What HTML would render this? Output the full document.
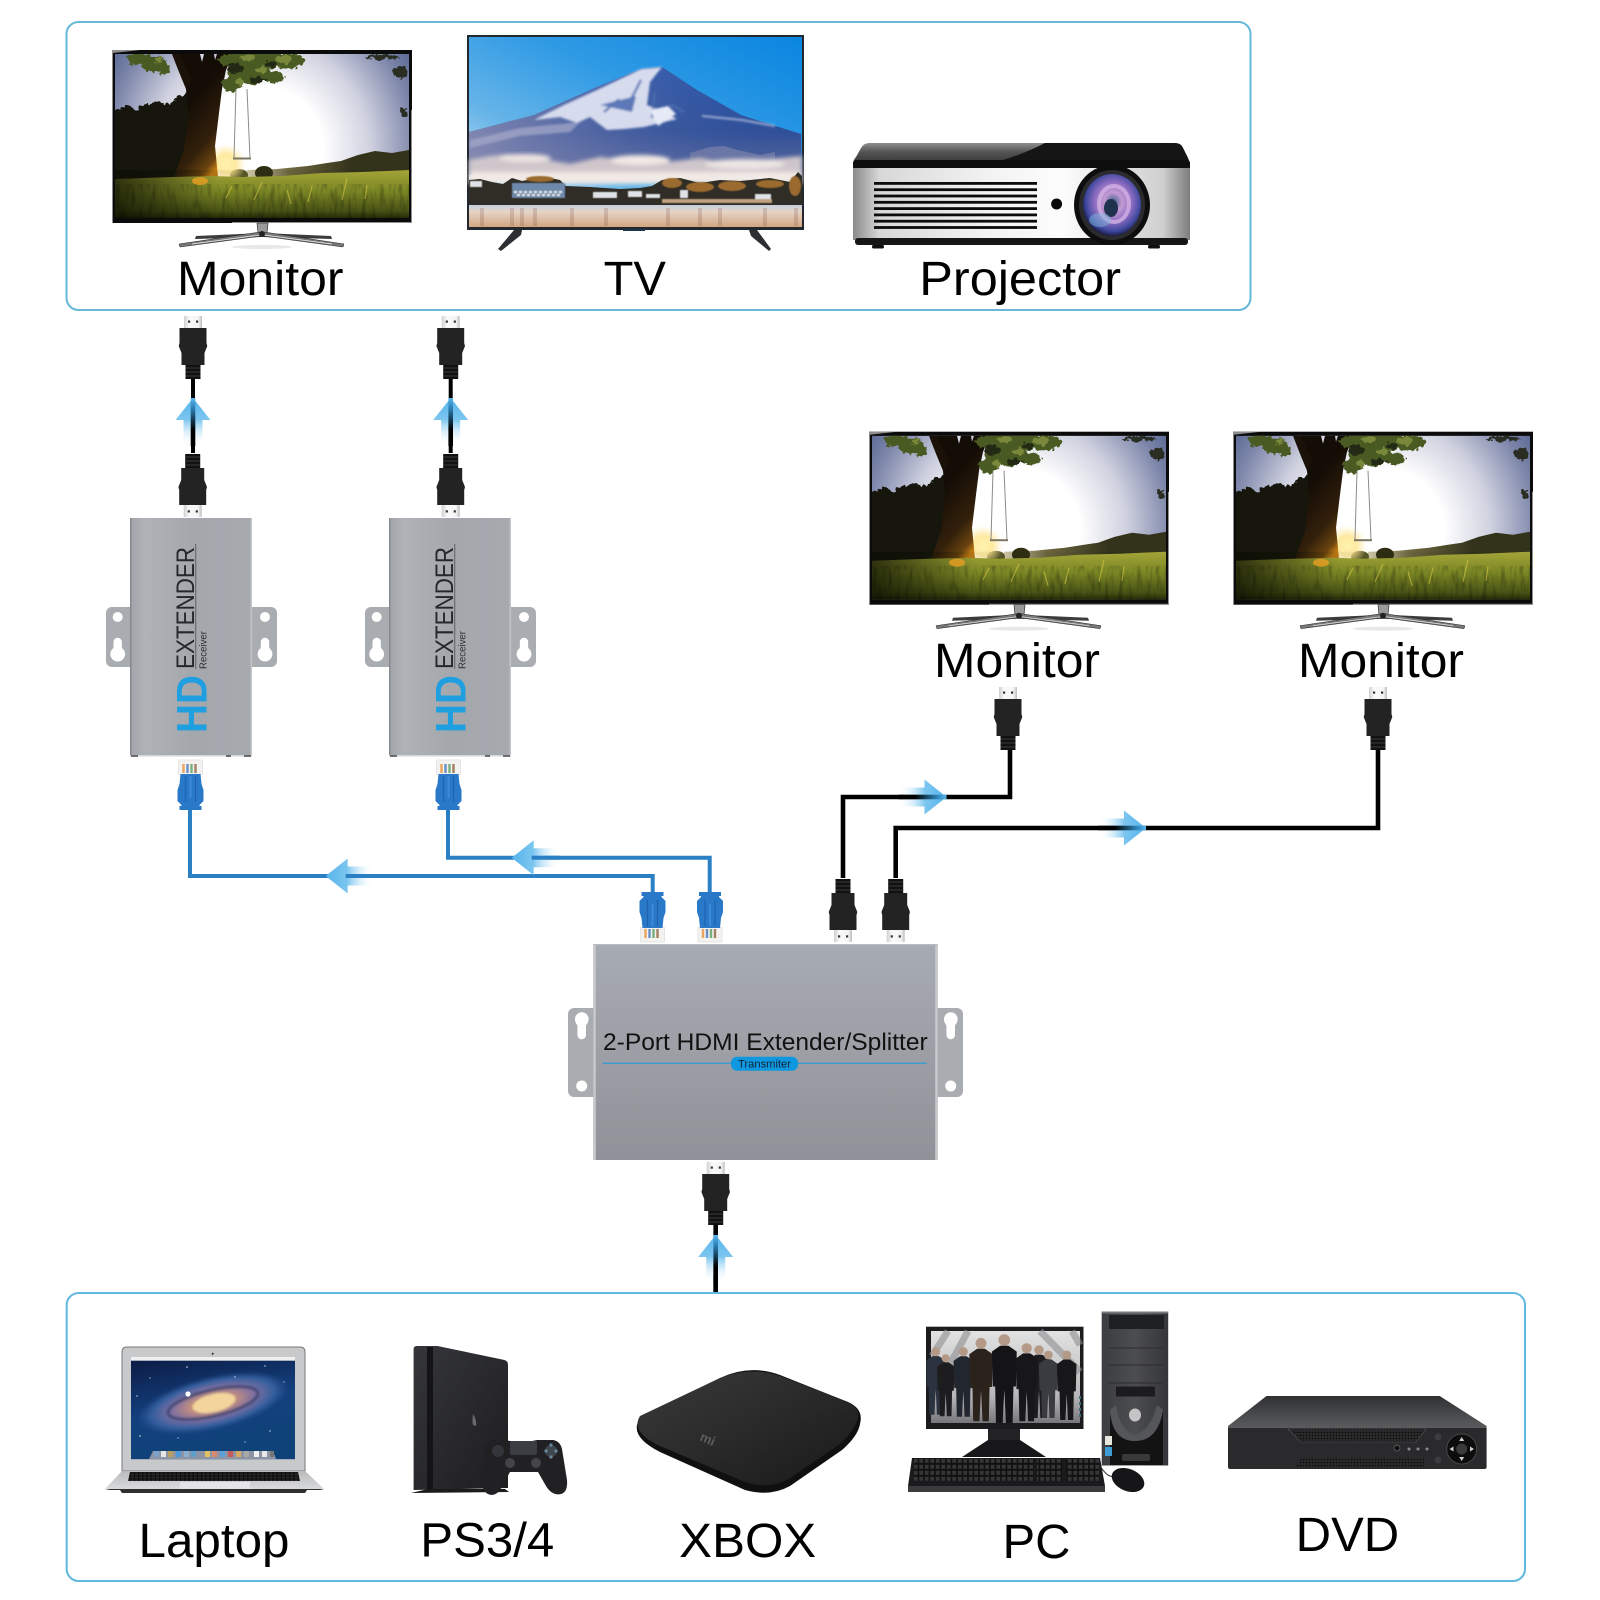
<!DOCTYPE html>
<html>
<head>
<meta charset="utf-8">
<title>2-Port HDMI Extender/Splitter diagram</title>
<style>
html,body{margin:0;padding:0;background:#fff;width:1600px;height:1600px;overflow:hidden}
svg{display:block}
text{font-family:"Liberation Sans",sans-serif}
</style>
</head>
<body>
<svg xmlns="http://www.w3.org/2000/svg" width="1600" height="1600" viewBox="0 0 1600 1600">
<defs>
  <radialGradient id="sky" gradientUnits="userSpaceOnUse" cx="150" cy="98" r="180">
    <stop offset="0" stop-color="#fff"/><stop offset=".34" stop-color="#fff"/><stop offset=".6" stop-color="#cfd1df"/><stop offset=".85" stop-color="#7d86aa"/><stop offset="1" stop-color="#566592"/>
  </radialGradient>
  <linearGradient id="grass" x1="0" y1="0" x2="0" y2="1">
    <stop offset="0" stop-color="#acac3a"/><stop offset=".45" stop-color="#7f8c26"/><stop offset=".85" stop-color="#4c5616"/><stop offset="1" stop-color="#262b08"/>
  </linearGradient>
  <linearGradient id="grassL" x1="0" y1="0" x2="1" y2="0">
    <stop offset="0" stop-color="#0c0e02" stop-opacity=".75"/><stop offset=".35" stop-color="#0c0e02" stop-opacity=".05"/><stop offset="1" stop-color="#0c0e02" stop-opacity=".05"/>
  </linearGradient>
  <linearGradient id="trunk" gradientUnits="userSpaceOnUse" x1="62" y1="70" x2="110" y2="112">
    <stop offset="0" stop-color="#140d06"/><stop offset=".6" stop-color="#33200b"/><stop offset=".88" stop-color="#6a440f"/><stop offset="1" stop-color="#c07a14"/>
  </linearGradient>
  <linearGradient id="hillg" gradientUnits="userSpaceOnUse" x1="135" y1="0" x2="240" y2="0">
    <stop offset="0" stop-color="#d8cfb0"/><stop offset=".4" stop-color="#6f6840"/><stop offset="1" stop-color="#33321b"/>
  </linearGradient>
  <radialGradient id="glow" cx=".5" cy=".5" r=".5">
    <stop offset="0" stop-color="#fff3b0"/><stop offset=".5" stop-color="#ffe48a" stop-opacity=".8"/><stop offset="1" stop-color="#ffe9a8" stop-opacity="0"/>
  </radialGradient>
  <filter id="noise" x="0" y="0" width="100%" height="100%">
    <feTurbulence type="fractalNoise" baseFrequency=".22 .05" numOctaves="2" seed="4"/>
    <feColorMatrix values="0 0 0 0 0  0 0 0 0 0  0 0 0 0 0  0 0 0 -3 1.6"/>
    <feComposite in2="SourceGraphic" operator="in"/>
  </filter>
  <filter id="rough" x="-10%" y="-10%" width="120%" height="120%">
    <feTurbulence type="fractalNoise" baseFrequency=".22" numOctaves="2" seed="7" result="n"/>
    <feDisplacementMap in="SourceGraphic" in2="n" scale="8" xChannelSelector="R" yChannelSelector="G"/>
  </filter>
  <filter id="blur2"><feGaussianBlur stdDeviation="2"/></filter>
  <filter id="blur1"><feGaussianBlur stdDeviation="1"/></filter>
  <filter id="blur05"><feGaussianBlur stdDeviation=".6"/></filter>
  <clipPath id="scr"><rect x="3" y="4" width="294" height="164"/></clipPath>

  <g id="mon">
    <rect x="0" y="0" width="300" height="173" fill="#0b0b0c"/>
    <path d="M0 0H28L1 3V173H0Z" fill="#8d8d90"/>
    <path d="M299 60H300V173H120V172H299Z" fill="#8f8f92"/>
    <g clip-path="url(#scr)">
      <rect x="3" y="4" width="294" height="164" fill="url(#sky)"/>
      <path d="M135 120L165 119 196 116 215 113 229 111 246 105 263 101 280 103 297 100V135H135Z" fill="url(#hillg)"/>
      <ellipse cx="127" cy="125" rx="9" ry="6" fill="#5b5a2a"/>
      <ellipse cx="152" cy="123" rx="9" ry="7" fill="#2f2f12"/>
      <ellipse cx="114" cy="114" rx="20" ry="20" fill="url(#glow)"/>
      <g filter="url(#rough)">
        <path d="M1 62L14 56 24 60 34 54 46 51 58 54 66 46 78 44V135H1Z" fill="#14160b"/>
      </g>
      <path d="M68 4H121L114 20 110 39 107 63 103 96 106 127H62L72 100 76 63 74 39Z" fill="url(#trunk)"/>
      <path d="M88 4H92L90 12Z" fill="#d9dce6"/>
      <path d="M102 4L105 4 103 10Z" fill="#c9cbd8"/>
      <path d="M74 39Q66 20 60 4H68L80 30Z" fill="#1a1108"/>
      <g filter="url(#rough)">
        <g fill="#4a5a20">
          <ellipse cx="28" cy="9" rx="14" ry="6"/><ellipse cx="42" cy="14" rx="13" ry="8"/><ellipse cx="52" cy="20" rx="6" ry="5"/>
          <ellipse cx="130" cy="10" rx="24" ry="8"/><ellipse cx="152" cy="10" rx="28" ry="9"/><ellipse cx="176" cy="11" rx="16" ry="8"/><ellipse cx="138" cy="24" rx="22" ry="10"/><ellipse cx="120" cy="34" rx="10" ry="8"/><ellipse cx="162" cy="27" rx="10" ry="6"/>
        </g>
        <g fill="#79883a">
          <ellipse cx="46" cy="10" rx="5" ry="3"/><ellipse cx="135" cy="8" rx="8" ry="3"/><ellipse cx="172" cy="9" rx="8" ry="4"/><ellipse cx="150" cy="20" rx="6" ry="3"/><ellipse cx="128" cy="32" rx="4" ry="3"/>
        </g>
        <g fill="#222912">
          <ellipse cx="124" cy="18" rx="8" ry="5"/><ellipse cx="146" cy="30" rx="8" ry="3"/><ellipse cx="160" cy="14" rx="6" ry="3"/>
        </g>
      </g>
      <g filter="url(#rough)" fill="#2c2e22">
        <ellipse cx="270" cy="7" rx="18" ry="2.5"/><ellipse cx="288" cy="22" rx="8" ry="6"/><ellipse cx="292" cy="62" rx="4" ry="5"/>
      </g>
      <path d="M124 39L122 108M135 39L138 108" stroke="#8c8a84" stroke-width="1"/>
      <rect x="121" y="107.5" width="18" height="2" fill="#7c7564"/>
      <path d="M3 129L60 127 100 126 130 127 170 126 210 123 250 122 297 120V168H3Z" fill="url(#grass)"/>
      <rect x="3" y="120" width="294" height="48" fill="url(#grassL)"/>
      <path d="M3 134H297V168H3Z" fill="#1a1c04" filter="url(#noise)" opacity=".25"/>
      <path d="M235 128l-5 22M200 136l-4 16M150 132l-8 18M175 140l4 14M255 135l-2 14M120 136l-6 12" stroke="#d8c848" stroke-width="1.2" opacity=".6"/>
      <ellipse cx="88" cy="131" rx="8" ry="4" fill="#f0a020" opacity=".75"/>
    </g>
    <path d="M145 173H156L155 183H146Z" fill="#9a9a9c" stroke="#333" stroke-width=".7"/>
    <path d="M150 183L84 186 83 189 150 187Z" fill="#3c3c3e"/>
    <path d="M150 183L219 186 220 189 150 187Z" fill="#3c3c3e"/>
    <path d="M148 182L67 194 68 197 150 186Z" fill="#777" stroke="#222" stroke-width=".5"/>
    <path d="M152 182L232 194 231 197 150 186Z" fill="#777" stroke="#222" stroke-width=".5"/>
    <path d="M80 194L148 185M220 194L152 185" stroke="#eee" stroke-width=".7"/>
    <circle cx="150" cy="184" r="3" fill="#222"/>
    <ellipse cx="150" cy="197" rx="30" ry="2" fill="#e8e8e8"/>
  </g>

  <linearGradient id="tipg" x1="0" y1="0" x2="1" y2="0">
    <stop offset="0" stop-color="#cfcfcf"/><stop offset=".3" stop-color="#fafafa"/><stop offset=".8" stop-color="#f4f4f4"/><stop offset="1" stop-color="#bdbdbd"/>
  </linearGradient>
  <g id="hdmi">
    <rect x="-9" y="0" width="18" height="12.5" fill="url(#tipg)"/>
    <rect x="-5" y="4.5" width="2.2" height="2.2" fill="#333"/>
    <rect x="3" y="4.5" width="2.2" height="2.2" fill="#333"/>
    <path d="M-13.5 12H13.5V27L14.3 30 11.5 37V49H-11.5V37L-14.3 30-13.5 27Z" fill="#232323"/>
    <rect x="-7.5" y="49" width="15" height="14" fill="#111"/>
    <path d="M-7.5 52H7.5M-7.5 56H7.5M-7.5 60H7.5" stroke="#3c3c3c" stroke-width="1"/>
  </g>

  <g id="rj">
    <rect x="-12" y="0" width="24" height="14.5" fill="#f4f2f0" stroke="#e2e2e2" stroke-width=".8"/>
    <g opacity=".75">
    <path d="M-7 4V13" stroke="#e58a2c" stroke-width="2.4"/>
    <path d="M-3 4V13" stroke="#3a6fb6" stroke-width="2.4"/>
    <path d="M1 4V13" stroke="#4f9a55" stroke-width="2.4"/>
    <path d="M5 4V13" stroke="#8a5a34" stroke-width="2.4"/>
    </g>
    <path d="M-10 14H10L11 24 13 30V41L9 45V46H11V50H-11V46H-9V45L-13 41V30L-11 24Z" fill="#2a78c8"/>
    <path d="M-5 16V42M5 16V42" stroke="#1f63ad" stroke-width="1.2"/>
    <path d="M-1 16H1V38H-1Z" fill="#3d8ad6"/>
  </g>

  <linearGradient id="agl" gradientUnits="userSpaceOnUse" x1="0" y1="0" x2="0" y2="48">
    <stop offset="0" stop-color="#55b4ea"/><stop offset=".45" stop-color="#7cc6f0"/><stop offset="1" stop-color="#fff" stop-opacity="0"/>
  </linearGradient>
  <linearGradient id="ack" gradientUnits="userSpaceOnUse" x1="0" y1="0" x2="0" y2="42">
    <stop offset="0" stop-color="#59b5ea"/><stop offset=".25" stop-color="#2a7eb4"/><stop offset=".75" stop-color="#000"/>
  </linearGradient>
  <g id="arK">
    <path d="M0 0L17.5 22H9.5V48H-9.5V22H-17.5Z" fill="url(#agl)"/>
    <rect x="-2.3" y="0" width="4.6" height="48" fill="url(#ack)"/>
  </g>
  <g id="arB">
    <path d="M0 0L17.5 22H9.5V48H-9.5V22H-17.5Z" fill="url(#agl)"/>
    <rect x="-2" y="20" width="4" height="28" fill="#2b7fc3"/>
  </g>

  <linearGradient id="devg" x1="0" y1="0" x2="1" y2="0">
    <stop offset="0" stop-color="#a1a5aa"/><stop offset=".12" stop-color="#afb3b8"/><stop offset=".5" stop-color="#a4a8ad"/><stop offset="1" stop-color="#a6a9ae"/>
  </linearGradient>
  <g id="recv">
    <rect x="106" y="607" width="30" height="60" rx="6" fill="#a9acb1"/>
    <rect x="246" y="607" width="31" height="60" rx="6" fill="#a9acb1"/>
    <circle cx="117.7" cy="617" r="5" fill="#fff"/><circle cx="265" cy="617" r="5" fill="#fff"/>
    <path d="M113.5 642a4.2 4.2 0 0 1 8.4 0v6a7.4 7.4 0 1 1-8.4 0Z" fill="#fff"/>
    <path d="M260.8 642a4.2 4.2 0 0 1 8.4 0v6a7.4 7.4 0 1 1-8.4 0Z" fill="#fff"/>
    <rect x="130" y="518" width="122" height="238" fill="url(#devg)"/>
    <rect x="130" y="518" width="1.5" height="238" fill="#85888c"/>
    <rect x="250.5" y="518" width="1.5" height="238" fill="#c2c4c8"/>
    <rect x="130" y="755" width="122" height="1.5" fill="#d4d5d7"/>
    <path d="M131 756h7M226 756h5M244 756h7" stroke="#444" stroke-width="1.4"/>
    <text transform="translate(194,669) rotate(-90)" font-size="25" fill="#25272a" textLength="122" lengthAdjust="spacingAndGlyphs">EXTENDER</text>
    <rect x="195.4" y="544" width=".8" height="125" fill="#4a4d52"/>
    <text transform="translate(206.7,669) rotate(-90)" font-size="10.5" fill="#2c2e31" textLength="38" lengthAdjust="spacingAndGlyphs">Receiver</text>
    <text transform="translate(206.7,733) rotate(-90)" font-size="43" font-weight="bold" fill="#1f9fe0" textLength="58" lengthAdjust="spacingAndGlyphs">HD</text>
  </g>

  <linearGradient id="txg" x1="0" y1="0" x2="0" y2="1">
    <stop offset="0" stop-color="#a7abb2"/><stop offset=".5" stop-color="#9c9fa5"/><stop offset="1" stop-color="#8f9298"/>
  </linearGradient>
  <linearGradient id="silver" x1="0" y1="0" x2="1" y2="0">
    <stop offset="0" stop-color="#8a8a8a"/><stop offset=".08" stop-color="#d8d8d8"/><stop offset=".4" stop-color="#f2f2f2"/><stop offset=".62" stop-color="#fdfdfd"/><stop offset=".92" stop-color="#cfcfcf"/><stop offset="1" stop-color="#7c7c7c"/>
  </linearGradient>
  <linearGradient id="ptop" x1="0" y1="0" x2="0" y2="1">
    <stop offset="0" stop-color="#8f8f8f"/><stop offset=".35" stop-color="#555"/><stop offset="1" stop-color="#2a2a2a"/>
  </linearGradient>
  <radialGradient id="lensg" cx=".52" cy=".45" r=".55">
    <stop offset="0" stop-color="#3a5f88"/><stop offset=".28" stop-color="#c29ad4"/><stop offset=".6" stop-color="#8a6abf"/><stop offset=".85" stop-color="#3f4aa0"/><stop offset="1" stop-color="#1c1c48"/>
  </radialGradient>
  <linearGradient id="tvsky" x1="1" y1="0" x2="0" y2="1">
    <stop offset="0" stop-color="#0a86e0"/><stop offset=".4" stop-color="#2f9ae4"/><stop offset=".7" stop-color="#66b4e8"/><stop offset="1" stop-color="#d8eef7"/>
  </linearGradient>
  <linearGradient id="mtn" x1="0" y1="0" x2="0" y2="1">
    <stop offset="0" stop-color="#2a55a8"/><stop offset=".6" stop-color="#2f4f98"/><stop offset="1" stop-color="#5e6a9c"/>
  </linearGradient>
  <linearGradient id="mtnL" x1="0" y1="0" x2="1" y2="0">
    <stop offset="0" stop-color="#8e90b4" stop-opacity=".85"/><stop offset=".5" stop-color="#7e85b4" stop-opacity=".25"/><stop offset="1" stop-color="#2a55a8" stop-opacity="0"/>
  </linearGradient>
  <linearGradient id="water" x1="0" y1="0" x2="0" y2="1">
    <stop offset="0" stop-color="#c2d0de"/><stop offset=".3" stop-color="#e6d4c6"/><stop offset="1" stop-color="#d3a581"/>
  </linearGradient>
  <radialGradient id="galaxy" cx=".5" cy=".5" r=".5">
    <stop offset="0" stop-color="#f2cf92"/><stop offset=".25" stop-color="#cf9478"/><stop offset=".55" stop-color="#7c6ea2"/><stop offset=".8" stop-color="#345f9e"/><stop offset="1" stop-color="#2a4f8f" stop-opacity="0"/>
  </radialGradient>
  <linearGradient id="lapsc" x1="0" y1="0" x2=".3" y2="1">
    <stop offset="0" stop-color="#0c1c46"/><stop offset=".55" stop-color="#13407e"/><stop offset="1" stop-color="#0f4278"/>
  </linearGradient>
  <linearGradient id="lapb" x1="0" y1="0" x2="0" y2="1">
    <stop offset="0" stop-color="#b9babc"/><stop offset="1" stop-color="#d9dadc"/>
  </linearGradient>
  <linearGradient id="ps" x1="0" y1="0" x2="1" y2="1">
    <stop offset="0" stop-color="#35363a"/><stop offset="1" stop-color="#1d1d20"/>
  </linearGradient>
  <linearGradient id="box" x1="0" y1="0" x2="1" y2="1">
    <stop offset="0" stop-color="#3a3a3a"/><stop offset=".5" stop-color="#2a2a2a"/><stop offset="1" stop-color="#191919"/>
  </linearGradient>
  <linearGradient id="crowd" x1="0" y1="0" x2="0" y2="1">
    <stop offset="0" stop-color="#e2e2e2"/><stop offset=".7" stop-color="#b8b8ba"/><stop offset="1" stop-color="#77777b"/>
  </linearGradient>
  <linearGradient id="tower" x1="0" y1="0" x2="1" y2="0">
    <stop offset="0" stop-color="#3c3d40"/><stop offset=".5" stop-color="#4c4d51"/><stop offset="1" stop-color="#35363a"/>
  </linearGradient>
  <linearGradient id="dvdt" x1="0" y1="0" x2="0" y2="1">
    <stop offset="0" stop-color="#2f3032"/><stop offset="1" stop-color="#58595b"/>
  </linearGradient>
  <pattern id="keys" width="5.5" height="6" patternUnits="userSpaceOnUse">
    <rect width="5.5" height="6" fill="#111"/><rect x=".8" y=".8" width="3.8" height="4" fill="#363638"/>
  </pattern>
  <pattern id="lkeys" width="4.2" height="3" patternUnits="userSpaceOnUse">
    <rect width="4.2" height="3" fill="#0c0c0c"/><rect x=".6" y=".5" width="3" height="2" fill="#2a2a2a"/>
  </pattern>
  <pattern id="dots" width="3" height="3" patternUnits="userSpaceOnUse">
    <rect width="3" height="3" fill="#2a2a2c"/><circle cx="1.5" cy="1.5" r=".85" fill="#0b0b0c"/>
  </pattern>
  <g id="pers">
    <circle cx="0" cy="0" r=".07" fill="#b49a86"/>
    <path d="M-.05 .07H.05L.15 .14 .14 .56H.11L.1 1H.02L0 .6-.02 1H-.1L-.11 .56H-.14L-.15 .14Z"/>
  </g>
</defs>

<rect width="1600" height="1600" fill="#fff"/>

<!-- Top box -->
<rect x="66.5" y="22" width="1184" height="288" rx="12" fill="#fff" stroke="#66b8d9" stroke-width="2"/>
<use href="#mon" x="112" y="50"/>

<!-- TV -->
<rect x="467" y="35" width="337" height="195" fill="#23272e"/>
<rect x="469" y="37" width="333" height="168" fill="url(#tvsky)"/>
<path d="M469 132L534 115 597 87 641 69 662 67 697 90 741 115 801 134 802 175H469Z" fill="url(#mtn)"/>
<path d="M469 132L534 115 597 87 641 69 662 67 697 90 741 115 801 134 802 175H469Z" fill="url(#mtnL)"/>
<g filter="url(#blur1)">
  <path d="M662 67L641 69 597 90 564 105 534 120 560 117 577 123 590 117 607 130 624 129 644 127 677 119 664 112 647 105 650 82Z" fill="#d6dbee"/>
  <path d="M641 80L628 105 618 100 604 112M655 92L652 118M670 104L684 112" stroke="#4d6cb0" stroke-width="2.2" fill="none"/>
  <path d="M600 105L636 96 632 112Z" fill="#5d78b8"/>
  <path d="M702 116L742 120 775 126" stroke="#b9c6e4" stroke-width="1.6" fill="none"/>
  <path d="M650 110L668 106 676 114 658 126Z" fill="#e6eaf6"/>
  <path d="M470 140L520 128 580 122 570 132 520 136 470 148Z" fill="#a7aacb" opacity=".7"/>
</g>
<path d="M690 153L710 147 724 146 738 150 760 155 775 152V165H690Z" fill="#6a76a6"/>
<g filter="url(#blur2)">
  <path d="M469 160L490 156 510 154 535 158 570 164 600 157 625 160 650 164 700 158 730 164 760 160 802 156V180H469Z" fill="#cfc6cb"/>
  <ellipse cx="525" cy="158" rx="26" ry="4" fill="#ece3e2"/>
  <ellipse cx="640" cy="160" rx="30" ry="5" fill="#f2e9e6"/>
  <ellipse cx="745" cy="164" rx="40" ry="5" fill="#ede5e3"/>
  <rect x="469" y="172" width="333" height="12" fill="#f1e9e5"/>
</g>
<path d="M469 205V180L480 179 492 182 503 184 512 178 522 181 545 177 560 180 566 186 590 187 620 189 640 188 652 186 662 180 680 178 700 183 720 180 740 181 770 178 790 182 798 172 802 176V205Z" fill="#2f2d26"/>
<g filter="url(#blur05)">
  <rect x="512" y="183" width="53" height="15" fill="#6e89ab"/>
  <path d="M514 192H562M517 195H560" stroke="#e8ebee" stroke-width="2" stroke-dasharray="3 2"/>
  <g fill="#9a6a2e"><ellipse cx="540" cy="179" rx="14" ry="3"/><ellipse cx="672" cy="183" rx="10" ry="5"/><ellipse cx="700" cy="187" rx="14" ry="5"/><ellipse cx="732" cy="186" rx="14" ry="5"/><ellipse cx="770" cy="184" rx="14" ry="4"/><ellipse cx="795" cy="186" rx="6" ry="10"/></g>
  <g fill="#dfe2e6"><rect x="593" y="192" width="24" height="6"/><rect x="628" y="191" width="14" height="6"/><rect x="646" y="194" width="14" height="4"/><rect x="680" y="190" width="8" height="8"/><rect x="755" y="194" width="16" height="5"/><rect x="470" y="181" width="12" height="6"/></g>
  <rect x="662" y="199" width="110" height="4" fill="#bfa37e"/>
</g>
<rect x="469" y="205" width="333" height="22" fill="url(#water)"/>
<path d="M482 208v18M512 208v18M522 208v18M535 208v18M572 208v18M606 208v18M668 208v18M700 208v18M720 208v18M765 208v18M796 208v18" stroke="#87604e" stroke-width="4" opacity=".25"/>
<rect x="623" y="229" width="22" height="2" fill="#1c3650"/>
<path d="M522 230H514L498 249 501 251 521 235Z" fill="#2c2f33"/>
<path d="M749 230H757L771 249 769 251 751 236Z" fill="#2c2f33"/>

<!-- Projector -->
<path d="M853 165Q853 160 856 157L861 148Q864 143 869 143H1175Q1181 143 1183 148L1188 158Q1190 161 1190 166V168H853Z" fill="url(#ptop)"/>
<path d="M996 162Q1022 155 1045 143H1175Q1181 143 1183 148L1188 158V164H996Z" fill="#151515"/>
<rect x="853" y="160" width="337" height="9" rx="3" fill="#0e0e0e"/>
<rect x="853" y="168" width="337" height="72" fill="url(#silver)"/>
<rect x="855" y="238" width="333" height="7" rx="3" fill="#161616"/>
<rect x="872" y="245" width="12" height="3.5" rx="1.5" fill="#111"/>
<rect x="1148" y="245" width="12" height="3.5" rx="1.5" fill="#111"/>
<g fill="#0c0c0c">
  <rect x="874" y="182" width="163" height="2.8"/><rect x="874" y="188.3" width="163" height="2.8"/><rect x="874" y="194.6" width="163" height="2.8"/><rect x="874" y="200.9" width="163" height="2.8"/><rect x="874" y="207.2" width="163" height="2.8"/><rect x="874" y="213.5" width="163" height="2.8"/><rect x="874" y="219.8" width="163" height="2.8"/><rect x="874" y="226.1" width="163" height="2.8"/>
</g>
<ellipse cx="1056.6" cy="204" rx="5.5" ry="5.5" fill="#0a0a0a"/>
<ellipse cx="1112" cy="205" rx="38" ry="40" fill="#0d0d0d"/>
<ellipse cx="1112" cy="205" rx="33" ry="35" fill="#2b2b2d"/>
<ellipse cx="1112" cy="205" rx="29" ry="31" fill="url(#lensg)"/>
<ellipse cx="1114" cy="204" rx="15" ry="18" fill="none" stroke="#d7b4e6" stroke-width="4" opacity=".75"/>
<ellipse cx="1111" cy="208" rx="7" ry="9" fill="#20334e"/>
<ellipse cx="1100" cy="220" rx="11" ry="7" fill="#7db7dc" opacity=".5"/>

<text x="177" y="295" font-size="48" fill="#000" textLength="166.5" lengthAdjust="spacingAndGlyphs">Monitor</text>
<text x="603.6" y="295" font-size="48" fill="#000" textLength="62.4" lengthAdjust="spacingAndGlyphs">TV</text>
<text x="919.3" y="295" font-size="48" fill="#000" textLength="201.7" lengthAdjust="spacingAndGlyphs">Projector</text>

<!-- Top connectors and cables -->
<path d="M193 379V453M450.7 379V453" stroke="#000" stroke-width="4" fill="none"/>
<use href="#hdmi" x="193" y="316"/>
<use href="#hdmi" x="450.7" y="316"/>
<use href="#arK" transform="translate(193,398)"/>
<use href="#arK" transform="translate(450.7,398)"/>
<use href="#hdmi" transform="translate(192.7,517) scale(1,-1)"/>
<use href="#hdmi" transform="translate(450.7,517) scale(1,-1)"/>

<!-- Receivers -->
<use href="#recv"/>
<use href="#recv" x="259"/>
<use href="#rj" x="190.5" y="760"/>
<use href="#rj" x="448.5" y="760"/>

<!-- Blue cables -->
<path d="M190 810V876H652.7V892" fill="none" stroke="#2b7fc3" stroke-width="4"/>
<path d="M448 810V857.7H709.7V892" fill="none" stroke="#2b7fc3" stroke-width="4"/>
<use href="#arB" transform="translate(325.7,876) rotate(-90)"/>
<use href="#arB" transform="translate(511.7,857.7) rotate(-90)"/>
<use href="#rj" transform="translate(652.5,942) scale(1,-1)"/>
<use href="#rj" transform="translate(710,942) scale(1,-1)"/>

<!-- Right monitors -->
<use href="#mon" x="869" y="431.7"/>
<use href="#mon" x="1233" y="431.7"/>
<text x="934" y="677" font-size="48" fill="#000" textLength="166" lengthAdjust="spacingAndGlyphs">Monitor</text>
<text x="1298" y="677" font-size="48" fill="#000" textLength="166" lengthAdjust="spacingAndGlyphs">Monitor</text>
<use href="#hdmi" x="1008" y="687"/>
<use href="#hdmi" x="1378" y="687"/>

<!-- Black cables -->
<path d="M843 878V797H1010V750" fill="none" stroke="#000" stroke-width="4.6"/>
<path d="M895.7 878V828H1378V750" fill="none" stroke="#000" stroke-width="4.6"/>
<use href="#arK" transform="translate(946.5,797) rotate(90)"/>
<use href="#arK" transform="translate(1146,828) rotate(90)"/>
<use href="#hdmi" transform="translate(843,942) scale(1,-1)"/>
<use href="#hdmi" transform="translate(895.7,942) scale(1,-1)"/>

<!-- Transmitter -->
<rect x="568" y="1008" width="32" height="89" rx="6" fill="#a9acb1"/>
<rect x="931" y="1008" width="32" height="89" rx="6" fill="#a9acb1"/>
<path d="M575 1019a6.8 6.8 0 0 1 13.6 0c0 3-1.6 5-2.6 6.5v9.5a4.3 4.3 0 0 1-8.6 0v-9.5c-1-1.5-2.4-3.5-2.4-6.5Z" fill="#fff"/>
<path d="M944 1019a6.8 6.8 0 0 1 13.6 0c0 3-1.6 5-2.6 6.5v9.5a4.3 4.3 0 0 1-8.6 0v-9.5c-1-1.5-2.4-3.5-2.4-6.5Z" fill="#fff"/>
<circle cx="581.7" cy="1086" r="5.5" fill="#fff"/>
<circle cx="950.7" cy="1086" r="5.5" fill="#fff"/>
<rect x="593.3" y="944" width="344.4" height="216" fill="url(#txg)"/>
<rect x="593.3" y="944" width="2.5" height="216" fill="#c6c8cc"/>
<rect x="935.2" y="944" width="2.5" height="216" fill="#c6c8cc"/>
<rect x="593.3" y="944" width="344.4" height="1.2" fill="#b8bbc0"/>
<text x="603" y="1050" font-size="24" fill="#111" textLength="324.7" lengthAdjust="spacingAndGlyphs">2-Port HDMI Extender/Splitter</text>
<rect x="602.7" y="1062.7" width="324" height="1.2" fill="#2a9dd6"/>
<rect x="731" y="1056.7" width="67" height="14" rx="6" fill="#0f97e0"/>
<text x="738" y="1067.5" font-size="11" fill="#0c2536" textLength="53" lengthAdjust="spacingAndGlyphs">Transmiter</text>

<!-- Input connector -->
<path d="M715.7 1225V1294" stroke="#000" stroke-width="4.6"/>
<use href="#hdmi" x="715.7" y="1162"/>
<use href="#arK" transform="translate(715.7,1235)"/>
<path d="M713.4 1275H718V1294H713.4Z" fill="#000"/>

<!-- Bottom box -->
<rect x="66.7" y="1293" width="1458.3" height="288" rx="12" fill="#fff" stroke="#5fb9de" stroke-width="2"/>

<!-- Laptop -->
<path d="M122 1471V1352Q122 1347 127 1347H300Q305 1347 305 1352V1471Z" fill="#c8c9cb" stroke="#77787a" stroke-width="1"/>
<rect x="131" y="1357" width="164" height="3.7" fill="#f0f0f0"/>
<circle cx="212.7" cy="1353.7" r="1" fill="#222"/>
<rect x="131" y="1360.7" width="164" height="98.5" fill="url(#lapsc)"/>
<g filter="url(#blur1)">
  <ellipse cx="213" cy="1403" rx="78" ry="27" fill="url(#galaxy)" transform="rotate(-13 213 1403)"/>
  <ellipse cx="213" cy="1403" rx="46" ry="13" fill="none" stroke="#2e3a62" stroke-width="3" transform="rotate(-13 213 1403)" opacity=".7"/>
  <ellipse cx="214" cy="1403" rx="22" ry="9" fill="#f2d49c" transform="rotate(-13 214 1403)"/>
</g>
<circle cx="188" cy="1394" r="2.6" fill="#fff"/>
<g fill="#cfe0f4"><circle cx="187" cy="1367" r=".8"/><circle cx="137" cy="1396" r=".7"/><circle cx="140" cy="1436" r=".8"/><circle cx="235" cy="1377" r=".7"/><circle cx="265" cy="1366" r=".7"/><circle cx="270" cy="1431" r=".7"/><circle cx="150" cy="1378" r=".6"/><circle cx="178" cy="1438" r=".6"/><circle cx="245" cy="1442" r=".6"/><circle cx="284" cy="1382" r=".6"/></g>
<path d="M149 1459L153 1451H273L276 1459Z" fill="#8d95a5"/>
<g><rect x="154" y="1451" width="5" height="6" fill="#7fa0c8"/><rect x="161" y="1451" width="5" height="6" fill="#e6e6e6"/><rect x="168" y="1451" width="5" height="6" fill="#b8a060"/><rect x="176" y="1451" width="5" height="6" fill="#4d9ad8"/><rect x="184" y="1451" width="5" height="6" fill="#8ab0d0"/><rect x="191" y="1451" width="5" height="6" fill="#5aa0c8"/><rect x="205" y="1451" width="5" height="6" fill="#e0c060"/><rect x="212" y="1451" width="5" height="6" fill="#d88a70"/><rect x="220" y="1451" width="5" height="6" fill="#5aa0d8"/><rect x="228" y="1451" width="5" height="6" fill="#c85a5a"/><rect x="236" y="1451" width="5" height="6" fill="#d8a860"/><rect x="244" y="1451" width="5" height="6" fill="#a8a8a8"/><rect x="254" y="1451" width="5" height="6" fill="#f0f0f0"/><rect x="262" y="1451" width="5" height="6" fill="#e8e8e8"/><rect x="270" y="1451" width="4" height="6" fill="#777"/></g>
<path d="M122 1471H305L324 1489H105Z" fill="url(#lapb)"/>
<path d="M130 1472H298L300 1481H128Z" fill="url(#lkeys)"/>
<rect x="180" y="1482" width="70" height="7" fill="#e5e5e7"/>
<path d="M105 1489H324L320 1490H120L122 1493H305L307 1490H110Z" fill="#2f2f31"/>
<text x="138.5" y="1557" font-size="48" fill="#000" textLength="151" lengthAdjust="spacingAndGlyphs">Laptop</text>

<!-- PS -->
<path d="M413.6 1349Q413.6 1346 417 1346H437.5L504.5 1360Q508 1361 508 1365V1488L413.6 1490Z" fill="url(#ps)"/>
<path d="M427 1347H433V1489H427Z" fill="#141416"/>
<path d="M411 1493L428 1489H505L509 1492Z" fill="#1b1b1d"/>
<path d="M473 1414q4 6 3 12l-3-1q-1-3 0-11Z" fill="#6a6a6e"/>
<path d="M492 1440Q486 1441 484 1450L482 1482Q482 1494 492 1495 499 1494 502 1486L510 1472H538L546 1486Q552 1496 561 1494 568 1492 567 1480L562 1449Q560 1441 553 1440H537L532 1441H510L505 1440Z" fill="#212124"/>
<rect x="510" y="1441" width="27" height="14" rx="2" fill="#3a3d44"/>
<circle cx="498" cy="1451" r="6" fill="#34353a"/><circle cx="551" cy="1451" r="6" fill="#3f4650"/>
<circle cx="510" cy="1463" r="5" fill="#44454a"/><circle cx="536" cy="1463" r="5" fill="#44454a"/>
<circle cx="551" cy="1445" r="1.6" fill="#5e8aa0"/><circle cx="546" cy="1451" r="1.6" fill="#6a8a9e"/><circle cx="556" cy="1451" r="1.6" fill="#6a8a9e"/><circle cx="551" cy="1457" r="1.6" fill="#6a8a9e"/>
<text x="420.3" y="1556.7" font-size="48" fill="#000" textLength="134" lengthAdjust="spacingAndGlyphs">PS3/4</text>

<!-- Box -->
<path d="M640 1418L720 1378Q750 1364 780 1375L848 1402Q864 1409 860 1424 858 1436 842 1450L790 1486Q770 1497 745 1490L660 1452Q628 1436 640 1418Z" fill="#101010"/>
<path d="M640 1416L720 1378Q750 1366 780 1376L848 1402Q860 1408 858 1418 855 1430 840 1444L790 1478Q770 1490 745 1482L660 1446Q630 1432 640 1416Z" fill="url(#box)"/>
<text transform="translate(699,1440) rotate(24)" font-size="13" font-weight="bold" fill="#5e5e5e">mi</text>
<text x="679.2" y="1557" font-size="48" fill="#000" textLength="137" lengthAdjust="spacingAndGlyphs">XBOX</text>

<!-- PC -->
<rect x="926" y="1326.7" width="157.5" height="102.3" fill="#1c1c1e"/>
<rect x="931" y="1331" width="149" height="92" fill="url(#crowd)"/>
<path d="M948 1331L932 1356M968 1331L935 1392M1040 1331L1080 1372M1072 1331L1080 1345" stroke="#8f8f92" stroke-width="7" opacity=".6"/>
<use href="#pers" transform="translate(935.7,1351.7) scale(63)" fill="#2c3340"/>
<use href="#pers" transform="translate(945.7,1358.3) scale(58)" fill="#1d1d20"/>
<use href="#pers" transform="translate(963.3,1351.7) scale(65)" fill="#22262e"/>
<use href="#pers" transform="translate(1039,1350) scale(68)" fill="#1d1d20"/>
<use href="#pers" transform="translate(1048.3,1355) scale(63)" fill="#3a3b40"/>
<use href="#pers" transform="translate(1066.7,1355) scale(65)" fill="#17171a"/>
<use href="#pers" transform="translate(1026.7,1348.3) scale(73)" fill="#17171a"/>
<use href="#pers" transform="translate(981,1343.3) scale(78)" fill="#2c221c"/>
<use href="#pers" transform="translate(1004.3,1340) scale(83)" fill="#141416"/>
<g fill="#3d6f80"><rect x="1079" y="1396" width="2" height="3"/><rect x="1079" y="1402" width="2" height="3"/><rect x="1079" y="1408" width="2" height="3"/><rect x="1079" y="1414" width="2" height="3"/></g>
<rect x="988" y="1429" width="32" height="16" fill="#232325"/>
<path d="M988 1440L962 1457H1046L1020 1440Z" fill="#17171a"/>
<rect x="1101.7" y="1311.5" width="66.5" height="154" fill="url(#tower)"/>
<rect x="1101.7" y="1311.5" width="66.5" height="2" fill="#77787c"/>
<rect x="1109" y="1315" width="55" height="14" fill="#1f2024"/>
<path d="M1108 1348H1163M1108 1365H1163M1108 1383H1163" stroke="#2c2c2f" stroke-width="1"/>
<rect x="1116" y="1386.5" width="39" height="10" fill="#1c1c1e"/>
<path d="M1110 1410Q1112 1441 1135 1441 1158 1441 1163 1410V1465H1110Z" fill="#131314"/>
<path d="M1116 1405Q1120 1431 1135 1435 1150 1431 1157 1405L1163 1410Q1158 1441 1135 1441 1112 1441 1110 1410Z" fill="#555659"/>
<ellipse cx="1135" cy="1415" rx="6" ry="6.5" fill="#c4c4c4"/>
<rect x="1105" y="1436" width="7" height="9" fill="#e8e8e0"/><rect x="1105" y="1447" width="7" height="9" fill="#3f9bd6"/>
<rect x="1122" y="1454" width="28" height="7" rx="2" fill="#39393c"/>
<path d="M912 1458H1100L1105 1486V1492H908V1486Z" fill="#1a1a1c"/>
<rect x="914" y="1459" width="120" height="22" fill="url(#keys)"/>
<rect x="1037" y="1459" width="25" height="22" fill="url(#keys)"/>
<rect x="1066" y="1459" width="33" height="22" fill="url(#keys)"/>
<rect x="908" y="1486" width="197" height="6" fill="#3b3b3d"/>
<path d="M1100 1466Q1108 1478 1113 1476" fill="none" stroke="#222" stroke-width="1"/>
<ellipse cx="1128" cy="1480" rx="17" ry="11" fill="#161618" transform="rotate(22 1128 1480)"/>
<text x="1002.5" y="1558" font-size="48" fill="#000" textLength="68" lengthAdjust="spacingAndGlyphs">PC</text>

<!-- DVD -->
<path d="M1266.5 1396H1439.7L1486.6 1426H1228Z" fill="url(#dvdt)"/>
<rect x="1228" y="1426" width="258.6" height="43" rx="2" fill="#2a2a2c"/>
<rect x="1228" y="1426" width="258.6" height="2" fill="#5a5a5c"/>
<path d="M1288 1429H1426L1420 1437 1416 1442H1300L1296 1437Z" fill="url(#dots)" stroke="#555" stroke-width=".6"/>
<path d="M1296 1467L1300 1459H1424V1467Z" fill="url(#dots)"/>
<circle cx="1461.7" cy="1449" r="15" fill="#0d0d0e" stroke="#47474a" stroke-width="1"/>
<circle cx="1461.7" cy="1449" r="5.5" fill="#3a3a3c"/>
<g fill="#cfcfcf"><path d="M1461.7 1437l2.5 4h-5z"/><path d="M1461.7 1461l2.5-4h-5z"/><path d="M1449.5 1449l4-2.5v5z"/><path d="M1474 1449l-4-2.5v5z"/></g>
<circle cx="1438" cy="1437" r="3.5" fill="#3c3c3e"/><circle cx="1438" cy="1460" r="3.5" fill="#3c3c3e"/>
<circle cx="1397" cy="1448" r="3" fill="#111" stroke="#6b6b6d" stroke-width=".7"/>
<g fill="#8a8a8c"><circle cx="1409" cy="1449" r="1.5"/><circle cx="1418" cy="1449" r="1.5"/><circle cx="1427" cy="1449" r="1.5"/></g>
<text x="1295.7" y="1551" font-size="48" fill="#000" textLength="103.5" lengthAdjust="spacingAndGlyphs">DVD</text>
</svg>
</body>
</html>
